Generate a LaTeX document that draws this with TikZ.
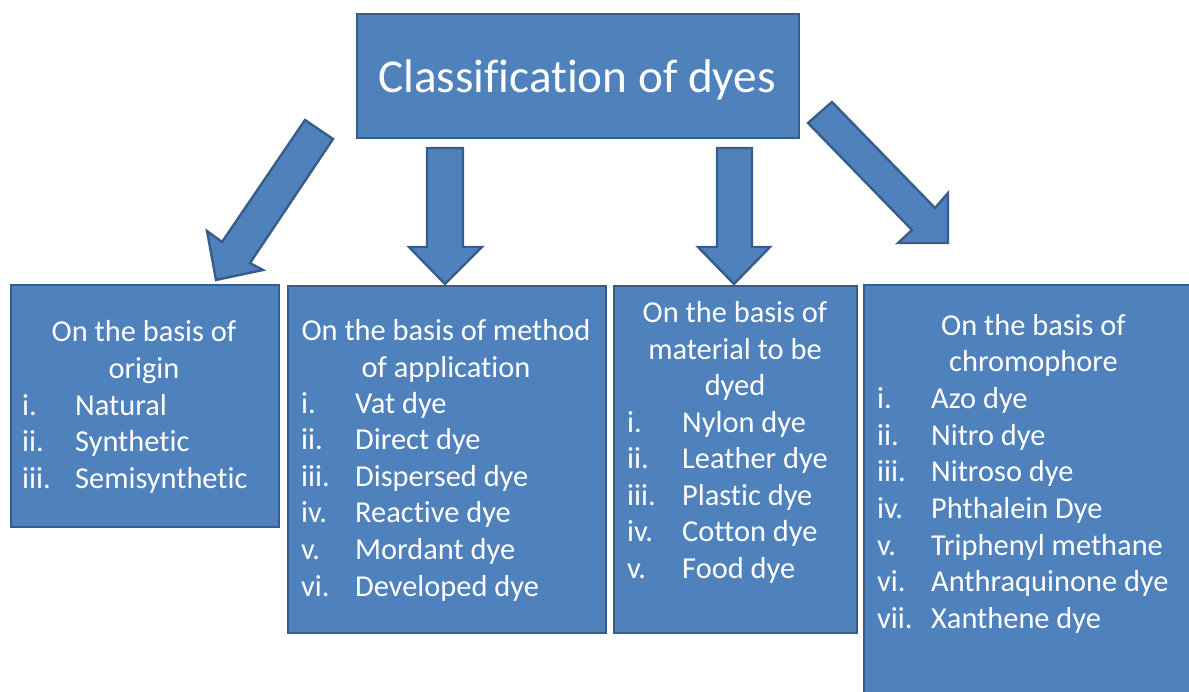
\documentclass[tikz,border=0pt]{standalone}
\usepackage{fontspec}
\setmainfont[Ligatures=NoCommon]{Carlito}
\definecolor{boxfill}{HTML}{4F81BD}
\definecolor{boxline}{HTML}{385D8A}
\tikzset{
  blk/.style={fill=boxfill, draw=boxline, line width=2.4pt, line join=miter},
  box/.style={blk, rectangle, inner sep=0pt},
  txt/.style={text=white, inner sep=0pt, font=\fontsize{30.4}{36.6}\selectfont},
  ttl/.style={text=white, inner sep=0pt, font=\fontsize{47.2}{56}\selectfont},
}
\begin{document}
\begin{tikzpicture}[x=1pt,y=-1pt]
\useasboundingbox (0,0) rectangle (1189,691);
\clip (0,0) rectangle (1189,691);
% boxes
\node[box, minimum width=442, minimum height=124] (root) at (578,76) {};
\node[box, minimum width=268, minimum height=242] (b1) at (145,406) {};
\node[box, minimum width=318, minimum height=347] (b2) at (447,459.5) {};
\node[box, minimum width=243, minimum height=347] (b3) at (735.5,459.5) {};
\node[box, minimum width=341, minimum height=415] (b4) at (1034.5,492.5) {};
% block arrows
\draw[blk] (305,120) -- (333,139) -- (250,263) -- (263,270) -- (216,280) -- (207,231) -- (222,242) -- cycle;
\draw[blk] (427,148) -- (463,148) -- (463,247) -- (482,247) -- (445,284) -- (409,247) -- (427,247) -- cycle;
\draw[blk] (717,148) -- (752,148) -- (752,247) -- (770,247) -- (734,284) -- (698,247) -- (717,247) -- cycle;
\draw[blk] (832,102) -- (935,208) -- (948,193) -- (948,243) -- (898,243) -- (912,230) -- (808,123) -- cycle;
% title
\node[ttl, anchor=base] (title) at (577,92) {Classification of dyes};
% box 1
\node[txt, anchor=base] (b1h1) at (144,341.7) {On the basis of};
\node[txt, anchor=base] (b1h2) at (144,378.5) {origin};
\foreach \lab/\itm/\y [count=\k] in {i./Natural/415.5, ii./Synthetic/451.8, iii./Semisynthetic/488.2} {
  \node[txt, anchor=base west] (b1l\k) at (22,\y) {\lab};
  \node[txt, anchor=base west] (b1t\k) at (75,\y) {\itm};
}
% box 2
\node[txt, anchor=base] (b2h1) at (446,340) {On the basis of method};
\node[txt, anchor=base] (b2h2) at (446,377) {of application};
\foreach \lab/\itm/\y [count=\k] in {i./Vat dye/413, ii./Direct dye/449.5, iii./Dispersed dye/486, iv./Reactive dye/522.5, v./Mordant dye/559, vi./Developed dye/596} {
  \node[txt, anchor=base west] (b2l\k) at (301,\y) {\lab};
  \node[txt, anchor=base west] (b2t\k) at (355,\y) {\itm};
}
% box 3
\node[txt, anchor=base] (b3h1) at (735,322) {On the basis of};
\node[txt, anchor=base] (b3h2) at (735,359) {material to be};
\node[txt, anchor=base] (b3h3) at (735,395.5) {dyed};
\foreach \lab/\itm/\y [count=\k] in {i./Nylon dye/432, ii./Leather dye/468.5, iii./Plastic dye/505, iv./Cotton dye/541.5, v./Food dye/578} {
  \node[txt, anchor=base west] (b3l\k) at (627,\y) {\lab};
  \node[txt, anchor=base west] (b3t\k) at (682,\y) {\itm};
}
% box 4
\node[txt, anchor=base] (b4h1) at (1033.5,335) {On the basis of};
\node[txt, anchor=base] (b4h2) at (1033.5,371.7) {chromophore};
\foreach \lab/\itm/\y [count=\k] in {i./Azo dye/408.3, ii./Nitro dye/445, iii./Nitroso dye/481.7, iv./Phthalein Dye/518.3, v./Triphenyl methane/555, vi./Anthraquinone dye/591.7, vii./Xanthene dye/628.3} {
  \node[txt, anchor=base west] (b4l\k) at (877,\y) {\lab};
  \node[txt, anchor=base west] (b4t\k) at (931,\y) {\itm};
}
\end{tikzpicture}
\end{document}
